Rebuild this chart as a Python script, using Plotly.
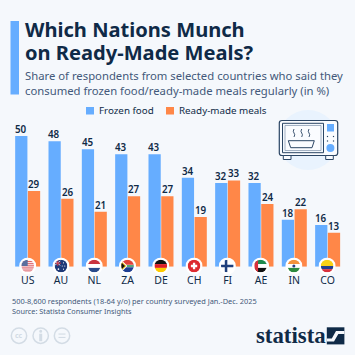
import base64
import plotly.graph_objects as go

countries = ["US", "AU", "NL", "ZA", "DE", "CH", "FI", "AE", "IN", "CO"]
frozen_food = [50, 48, 45, 43, 43, 34, 32, 32, 18, 16]
ready_meals = [29, 26, 21, 27, 27, 19, 33, 24, 22, 13]
series_names = ["Frozen food", "Ready-made meals"]

W = 355
BG = "#f5f8fc"
BLUE = "#66adff"
ORANGE = "#ff8748"
NAVY = "#0f2a47"
SLATE = "#43597a"
FONT = "Noto Sans"


def px(x):
    return x / W


def py(y):
    return 1 - y / W


flags = {
    "US": '<rect width="20" height="20" fill="#fff"/>' + ''.join(f'<rect y="{y}" width="20" height="1.5" fill="#d8505a"/>' for y in (2, 5, 8, 11, 14, 17)) + '<rect width="10" height="10" fill="#5a6f9e"/>',
    "AU": '<rect width="20" height="20" fill="#1f3a78"/><path d="M0 2L9 9M9 2L0 9" stroke="#fff" stroke-width="1.2"/><path d="M5 0V10M0 5.5H10" stroke="#d8303c" stroke-width="1.5"/><circle cx="14" cy="5" r=".9" fill="#fff"/><circle cx="16" cy="10" r=".9" fill="#fff"/><circle cx="12" cy="10" r=".9" fill="#fff"/><circle cx="14" cy="15" r=".9" fill="#fff"/><circle cx="6" cy="15" r="1.3" fill="#fff"/>',
    "NL": '<rect width="20" height="7" fill="#c8323f"/><rect y="7" width="20" height="6" fill="#fff"/><rect y="13" width="20" height="7" fill="#2a4b8c"/>',
    "ZA": '<rect width="20" height="10" fill="#e0413a"/><rect y="10" width="20" height="10" fill="#1f3f94"/><path d="M0 0L10 10L0 20Z" fill="#fff"/><path d="M0 2L8 10L0 18Z" fill="#f5c518"/><path d="M0 4L6 10L0 16Z" fill="#111"/><path d="M8 8H20V12H8Z" fill="#fff"/><path d="M9 9H20V11H9Z" fill="#1f8a4c"/>',
    "DE": '<rect width="20" height="7" fill="#111"/><rect y="7" width="20" height="6" fill="#dd1f26"/><rect y="13" width="20" height="7" fill="#ffcc00"/>',
    "CH": '<rect width="20" height="20" fill="#dd2a2f"/><path d="M8.2 5H11.8V8.2H15V11.8H11.8V15H8.2V11.8H5V8.2H8.2Z" fill="#fff"/>',
    "FI": '<rect width="20" height="20" fill="#fff"/><path d="M0 8H20V12H0Z" fill="#1f3f7c"/><path d="M6 0H10V20H6Z" fill="#1f3f7c"/>',
    "AE": '<rect width="20" height="7" fill="#1f8a4c"/><rect y="7" width="20" height="6" fill="#fff"/><rect y="13" width="20" height="7" fill="#111"/><rect width="6" height="20" fill="#d8303c"/>',
    "IN": '<rect width="20" height="7" fill="#f2923c"/><rect y="7" width="20" height="6" fill="#fff"/><rect y="13" width="20" height="7" fill="#2c8a3e"/><circle cx="10" cy="10" r="2.4" fill="#2a3f80"/>',
    "CO": '<rect width="20" height="10" fill="#f8d116"/><rect y="10" width="20" height="5" fill="#22408f"/><rect y="15" width="20" height="5" fill="#d8303c"/>',
}


def flag_uri(code):
    svg = ('<svg xmlns="http://www.w3.org/2000/svg" viewBox="-3.6 -3.6 27.2 27.2" width="80" height="80">'
           '<clipPath id="c"><circle cx="10" cy="10" r="10"/></clipPath>'
           '<circle cx="10" cy="10" r="13.6" fill="#fff"/>'
           f'<g clip-path="url(#c)">{flags[code]}</g></svg>')
    return "data:image/svg+xml;base64," + base64.b64encode(svg.encode()).decode()


fig = go.Figure()
for name, values, colour in zip(series_names, (frozen_food, ready_meals), (BLUE, ORANGE)):
    fig.add_bar(x=countries, y=values, name=name, marker=dict(color=colour, line=dict(width=0)),
                cliponaxis=False, hoverinfo="skip")

shapes = []
annotations = []
images = []


def rect(x0, y0, x1, y1, **kw):
    shapes.append(dict(type="rect", xref="paper", yref="paper", x0=px(x0), x1=px(x1), y0=py(y0), y1=py(y1),
                       layer=kw.pop("layer", "above"), line=dict(width=kw.pop("lw", 0), color=kw.pop("lc", "rgba(0,0,0,0)")), **kw))


def circle(cx, cy, r, **kw):
    shapes.append(dict(type="circle", xref="paper", yref="paper", x0=px(cx - r), x1=px(cx + r), y0=py(cy - r), y1=py(cy + r),
                       layer=kw.pop("layer", "above"), line=dict(width=kw.pop("lw", 0), color=kw.pop("lc", "rgba(0,0,0,0)")), **kw))


def text(x, y, s, size, color, weight=400, family=FONT, anchor="left"):
    annotations.append(dict(xref="paper", yref="paper", x=px(x), y=py(y), text=s, showarrow=False,
                            xanchor=anchor, yanchor="middle", align="left",
                            font=dict(family=family, size=size, color=color, weight=weight)))


def path(d, **kw):
    shapes.append(dict(type="path", xref="paper", yref="paper", path=d, **kw))


def p(x, y):
    return f"{px(x)} {py(y)}"


# value labels above each bar
for values, shift in ((frozen_food, -6.6), (ready_meals, 6.6)):
    for c, v in zip(countries, values):
        annotations.append(dict(xref="x", yref="y", x=c, y=v, text=str(v), showarrow=False, xshift=shift, yshift=-2,
                                xanchor="center", yanchor="bottom",
                                font=dict(family=FONT, size=9.8, color=NAVY, weight=600)))

rect(10.5, 21, 19, 94.5, fillcolor=BLUE)
text(22.5, 29.5, "Which Nations Munch", 20.1, NAVY, 700)
text(22.5, 52, "on Ready-Made Meals?", 20.1, NAVY, 700)
text(22.5, 76, "Share of respondents from selected countries who said they", 11.3, SLATE)
text(22.5, 90.5, "consumed frozen food/ready-made meals regularly (in %)", 11.3, SLATE)
rect(86, 107, 94, 114.5, fillcolor=BLUE)
text(97, 110.5, "Frozen food", 9.8, NAVY)
rect(166, 107, 174, 114.5, fillcolor=ORANGE)
text(177, 110.5, "Ready-made meals", 9.8, NAVY)

# microwave illustration
circle(308, 140, 30, fillcolor="#e9f3fe", layer="below")
M = "#2b4564"
path(f"M {p(282, 120.5)} L {p(335, 120.5)} Q {p(337.7, 120.5)} {p(337.7, 123)} L {p(337.7, 153)} Q {p(337.7, 155.5)} {p(335, 155.5)} "
     f"L {p(282, 155.5)} Q {p(279.3, 155.5)} {p(279.3, 153)} L {p(279.3, 123)} Q {p(279.3, 120.5)} {p(282, 120.5)} Z",
     fillcolor="#fafcff", line=dict(color=M, width=1.2))
rect(282.5, 123.3, 323.5, 152.7, fillcolor="#f3f8fd", lw=1, lc=M)
rect(285, 125.5, 321, 150.5, fillcolor="#fafcff", lw=0.8, lc="#8fa0b5")
rect(327, 124, 334, 131.5, fillcolor=BLUE)
circle(330.4, 148, 4, fillcolor=BLUE)
for sx in (327.5, 333.5):
    for sy in (136.5, 141):
        rect(sx - .6, sy - .6, sx + .6, sy + .6, fillcolor=M)
rect(283.3, 155.5, 291, 159.5, fillcolor="#fafcff", lw=1, lc=M)
rect(325.7, 155.5, 333.3, 159.5, fillcolor="#fafcff", lw=1, lc=M)
path(f"M {p(288.3, 140.7)} L {p(314.3, 140.7)} L {p(312, 147.7)} L {p(290.7, 147.7)} Z",
     line=dict(color=M, width=1), fillcolor="rgba(0,0,0,0)")
for sx in (294, 301.7, 309):
    path(f"M {p(sx, 129)} Q {p(sx - 1.5, 131.5)} {p(sx, 133)} Q {p(sx + 1.5, 134.5)} {p(sx, 137)}",
         line=dict(color=M, width=0.9), fillcolor="rgba(0,0,0,0)")

# flags on the axis
for i, code in enumerate(countries):
    cx = 27.7 + i * 33.27
    images.append(dict(source=flag_uri(code), xref="paper", yref="paper", x=px(cx - 8.6), y=py(266 - 8.6),
                       sizex=17.2 / W, sizey=17.2 / W, xanchor="left", yanchor="top", layer="above", sizing="stretch"))

# footer
text(9.8, 300.7, "500-8,600 respondents (18-64 y/o) per country surveyed Jan.-Dec. 2025", 7.4, SLATE)
text(9.8, 311.3, "Source: Statista Consumer Insights", 7.3, SLATE)
for cx in (19, 40.7, 62):
    circle(cx, 335.7, 7.7, fillcolor=BG, lw=1.5, lc="#d3dce5")
text(19, 335.5, "cc", 7, "#d3dce5", 700, anchor="center")
circle(40.7, 331.2, 1.5, fillcolor="#d3dce5")
rect(39.2, 333.7, 42.2, 341.2, fillcolor="#d3dce5")
rect(58.5, 333.5, 65.5, 334.6, fillcolor="#d3dce5")
rect(58.5, 336.9, 65.5, 338, fillcolor="#d3dce5")
text(254, 335.5, "statista", 22.8, NAVY, 700, family="Liberation Sans Narrow")
rect(326.8, 327.3, 344.4, 344.4, fillcolor=NAVY)
path(f"M {p(326.8, 341.5)} L {p(334, 341.5)} L {p(338.3, 334)} L {p(344.4, 334)} L {p(344.4, 331)} L {p(336, 331)} L {p(331.8, 338.5)} L {p(326.8, 338.5)} Z",
     line=dict(width=0), fillcolor=BG)

fig.update_layout(
    width=W, height=W, autosize=False, showlegend=False,
    paper_bgcolor=BG, plot_bgcolor="rgba(0,0,0,0)",
    margin=dict(l=0, r=0, t=0, b=0),
    barmode="group", bargap=0.235, bargroupgap=0.04,
    xaxis=dict(domain=[px(11), px(344.3)], showgrid=False, zeroline=False, showline=False, ticks="",
               tickfont=dict(family=FONT, size=10.5, color=NAVY), ticklabelstandoff=6),
    yaxis=dict(domain=[py(266.7), py(123)], range=[0, 55], visible=False, showgrid=False, zeroline=False),
    shapes=shapes, annotations=annotations, images=images,
)
fig.write_html("out.html", config={"displayModeBar": False},
               post_script="document.body.style.margin='0';document.documentElement.style.overflow='hidden';document.body.style.background='#f5f8fc';")
